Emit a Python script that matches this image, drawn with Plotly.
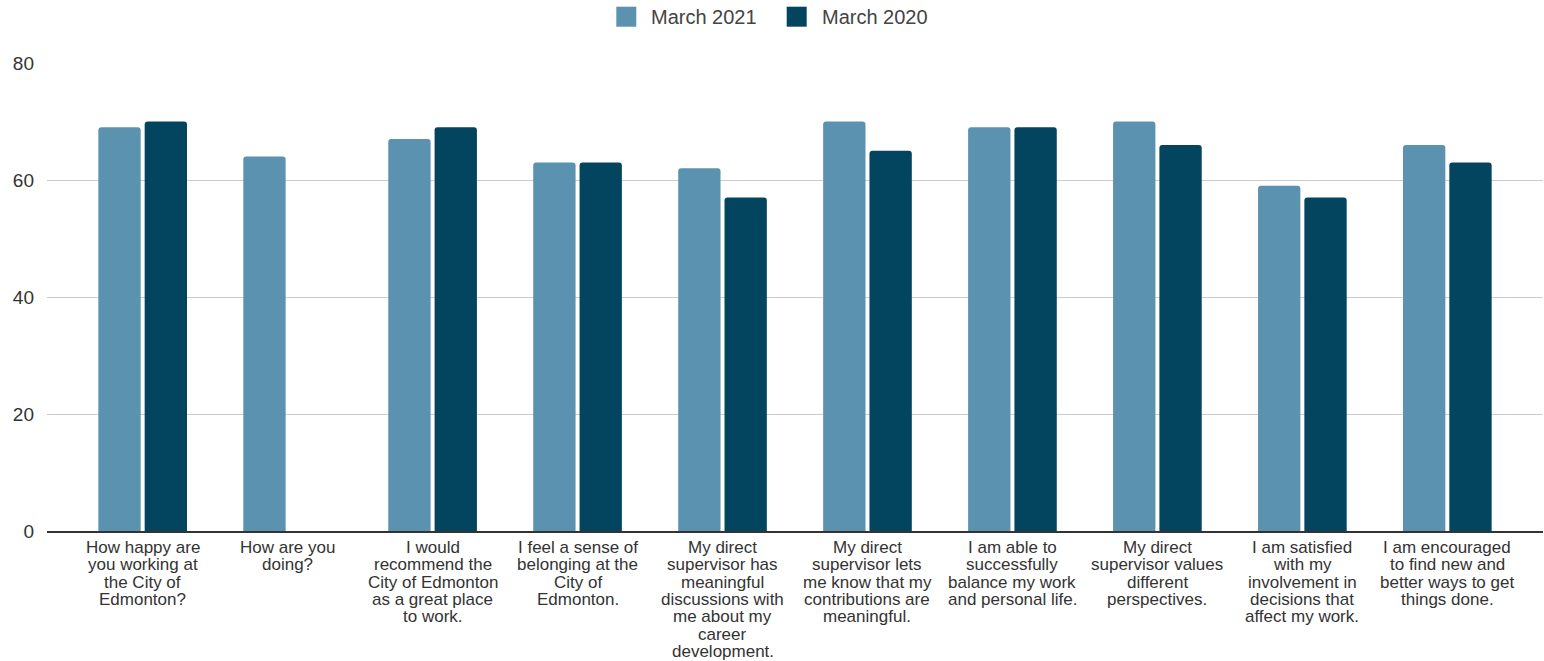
import plotly.graph_objects as go

# Survey questions, each split into the lines it is printed on under the axis
question_lines = [
    ["How happy are", "you working at", "the City of", "Edmonton?"],
    ["How are you", "doing?"],
    ["I would", "recommend the", "City of Edmonton", "as a great place", "to work."],
    ["I feel a sense of", "belonging at the", "City of", "Edmonton."],
    ["My direct", "supervisor has", "meaningful", "discussions with", "me about my", "career", "development."],
    ["My direct", "supervisor lets", "me know that my", "contributions are", "meaningful."],
    ["I am able to", "successfully", "balance my work", "and personal life."],
    ["My direct", "supervisor values", "different", "perspectives."],
    ["I am satisfied", "with my", "involvement in", "decisions that", "affect my work."],
    ["I am encouraged", "to find new and", "better ways to get", "things done."],
]
questions = [" ".join(lines) for lines in question_lines]

series_names = ["March 2021", "March 2020"]
march_2021 = [69, 64, 67, 63, 62, 70, 69, 70, 59, 66]
march_2020 = [70, None, 69, 63, 57, 65, 69, 66, 57, 63]

y_ticks = [0, 20, 40, 60, 80]

COLORS = ["#5a92b0", "#03455f"]
FONT = "Liberation Sans, Arial, sans-serif"

W, H = 1544, 661
M_L, M_R, M_T, M_B = 47, 1, 63, 130

fig = go.Figure()
for name, values, color in zip(series_names, [march_2021, march_2020], COLORS):
    fig.add_trace(go.Bar(
        name=name, x=questions, y=values, showlegend=False,
        marker=dict(color=color, cornerradius=3, line=dict(width=0)),
    ))

# Multi-line category labels with tight line spacing
annotations = []
for q, lines in zip(questions, question_lines):
    for j, line in enumerate(lines):
        annotations.append(dict(
            x=q, xref="x", y=0, yref="paper",
            yanchor="top", xanchor="center",
            yshift=-5 - j * 17.3,
            text=line, showarrow=False,
            font=dict(family=FONT, size=17, color="#333333"),
        ))

# Legend row across the top: large square swatches followed by the series name
def px_to_paper_x(px):
    return (px - M_L) / (W - M_L - M_R)

def px_to_paper_y(py):
    return (H - M_B - py) / (H - M_T - M_B)

shapes = []
legend_y = 16.7
swatch = 20
for name, color, left in zip(series_names, COLORS, [616.3, 786.7]):
    shapes.append(dict(
        type="rect", xref="paper", yref="paper",
        x0=px_to_paper_x(left), x1=px_to_paper_x(left + swatch),
        y0=px_to_paper_y(legend_y + swatch / 2), y1=px_to_paper_y(legend_y - swatch / 2),
        fillcolor=color, line=dict(width=0), layer="above",
    ))
    annotations.append(dict(
        x=px_to_paper_x(left + swatch + 13), xref="paper",
        y=px_to_paper_y(legend_y), yref="paper",
        xanchor="left", yanchor="middle",
        text=name, showarrow=False,
        font=dict(family=FONT, size=20, color="#444444"),
    ))

fig.update_layout(
    width=W, height=H,
    margin=dict(l=M_L, r=M_R, t=M_T, b=M_B),
    paper_bgcolor="white", plot_bgcolor="white",
    barmode="group", bargap=0.361, bargroupgap=0.086,
    font=dict(family=FONT, color="#333333"),
    showlegend=False,
    annotations=annotations,
    shapes=shapes,
    xaxis=dict(
        range=[-0.66, len(questions) - 1 + 0.66],
        showticklabels=False, showgrid=False,
        showline=True, linecolor="#333333", linewidth=1.5,
        zeroline=False, ticks="",
    ),
    yaxis=dict(
        range=[0, 80], tickvals=y_ticks,
        showgrid=True, gridcolor="#cccccc", gridwidth=1,
        zeroline=False, showline=False, ticks="",
        tickfont=dict(family=FONT, size=19, color="#333333"),
        ticklabelstandoff=12,
    ),
)

fig.write_html("out.html")
